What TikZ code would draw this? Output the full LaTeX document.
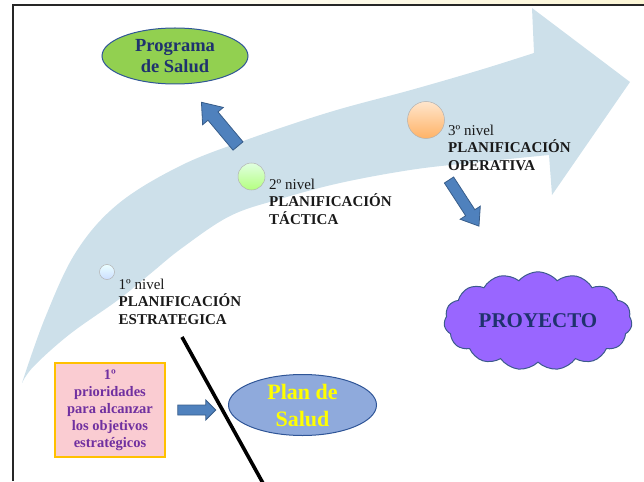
\documentclass[tikz,border=0pt]{standalone}
\usepackage{fontspec}
\setmainfont{Liberation Serif}
\usetikzlibrary{shapes.geometric,shapes.symbols}
\definecolor{bandblue}{RGB}{205,224,234}
\definecolor{arrowblue}{RGB}{79,129,189}
\definecolor{arrowedge}{RGB}{56,93,138}
\definecolor{leafgreen}{RGB}{146,208,80}
\definecolor{inknavy}{RGB}{31,50,110}
\definecolor{ovaledge}{RGB}{47,85,151}
\definecolor{steelfill}{RGB}{143,170,220}
\definecolor{pinkfill}{RGB}{250,204,210}
\definecolor{amber}{RGB}{255,192,0}
\definecolor{plum}{RGB}{112,48,160}
\definecolor{cloudviolet}{RGB}{153,102,255}
\definecolor{cloudedge}{RGB}{60,90,140}
\definecolor{paleyellow}{RGB}{252,246,214}
\definecolor{brightyellow}{RGB}{255,255,0}
\begin{document}
\begin{tikzpicture}[x=1pt,y=-1pt,
  blockarrow/.style={fill=arrowblue,draw=arrowedge,line width=0.8pt,line join=miter},
  oval/.style={ellipse,draw=ovaledge,line width=1pt,inner sep=0pt,align=center},
  level/.style={anchor=base west,align=left,inner sep=0pt,text=black!90,
    font=\fontsize{15}{17.5}\selectfont},
  dot/.style={circle,draw=black!30,line width=0.5pt,inner sep=0pt},
]
\useasboundingbox (0,0) rectangle (644,481);

% frame of the sheet
\shade[left color=white,right color=paleyellow] (12,0) rectangle (644,5);
\draw[line width=2pt,black!85] (12.5,481) -- (12.5,5.5) -- (644,5.5);

% large curved arrow of the planning levels
\fill[bandblue]
  plot[smooth,tension=0.6] coordinates {(22,383) (45,318) (76,252) (118,204) (180,166) (246,140) (330,112) (411,90) (480,70) (534,53)}
  -- (532,8) -- (630,82) -- (552,195) --
  plot[smooth,tension=0.6] coordinates {(549,155) (470,163) (410,170) (340,183) (280,199) (230,216) (182,248) (150,274) (118,300) (70,334) (34,366) (22,383)}
  -- cycle;

% level markers
\node[dot,minimum size=15pt,top color=cyan!8,bottom color=cyan!35!blue!20] (dotone) at (107,272) {};
\node[dot,minimum size=27pt,top color=green!12,bottom color=green!45!lime!50] (dottwo) at (251.5,176.5) {};
\node[dot,minimum size=37pt,top color=orange!20,bottom color=orange!60] (dotthree) at (426,120) {};

% base anchor sits on the last line
\node[level] (lvlone) at (118.5,324) {1º nivel\\\textbf{PLANIFICACIÓN}\\\textbf{ESTRATEGICA}};
\node[level] (lvltwo) at (269,224) {2º nivel\\\textbf{PLANIFICACIÓN}\\\textbf{TÁCTICA}};
\node[level] (lvlthree) at (448,170) {3º nivel\\\textbf{PLANIFICACIÓN}\\\textbf{OPERATIVA}};

% outcomes
\node[oval,fill=leafgreen,minimum width=146pt,minimum height=56pt,text=inknavy,
  font=\fontsize{18.5}{20.5}\selectfont\bfseries] (programa) at (175,56) {Programa\\de Salud};
\node[oval,fill=steelfill,minimum width=148pt,minimum height=61pt,text=brightyellow,
  font=\fontsize{22}{27}\selectfont\bfseries] (plan) at (302.5,405) {Plan de\\Salud};
\node[cloud,cloud puffs=15,cloud puff arc=100,aspect=2,draw=cloudedge,fill=cloudviolet,
  line width=1pt,minimum width=188pt,minimum height=97pt,inner sep=0pt,text=inknavy,
  font=\fontsize{21}{23}\selectfont\bfseries] (proyecto) at (538,321) {PROYECTO};
\node[rectangle,draw=amber,line width=1.6pt,fill=pinkfill,minimum width=110pt,minimum height=94pt,
  inner sep=0pt,align=center,text=plum,font=\fontsize{14.5}{17}\selectfont\bfseries]
  (prioridades) at (110,410) {1º\\prioridades\\para alcanzar\\los objetivos\\estratégicos};

% block arrows
\coordinate (upfrom) at (238,146);
\draw[blockarrow,shift={(upfrom)},rotate=129.9]
  (0,-6.5) -- (39,-6.5) -- (39,-13.5) -- (57,0) -- (39,13.5) -- (39,6.5) -- (0,6.5) -- cycle;
\coordinate (downfrom) at (449,180);
\draw[blockarrow,shift={(downfrom)},rotate=-57]
  (0,-5.5) -- (39,-5.5) -- (39,-12) -- (55,0) -- (39,12) -- (39,5.5) -- (0,5.5) -- cycle;
\coordinate (rightfrom) at ([xshift=12pt]prioridades.east);
\draw[blockarrow,shift={(rightfrom)}]
  (0,-5) -- (28,-5) -- (28,-10) -- (38,0) -- (28,10) -- (28,5) -- (0,5) -- cycle;

% dividing stroke
\coordinate (cuttop) at (182,337);
\coordinate (cutbottom) at (264,485);
\draw[line width=3.6pt,black] (cuttop) -- (cutbottom);
\end{tikzpicture}
\end{document}
